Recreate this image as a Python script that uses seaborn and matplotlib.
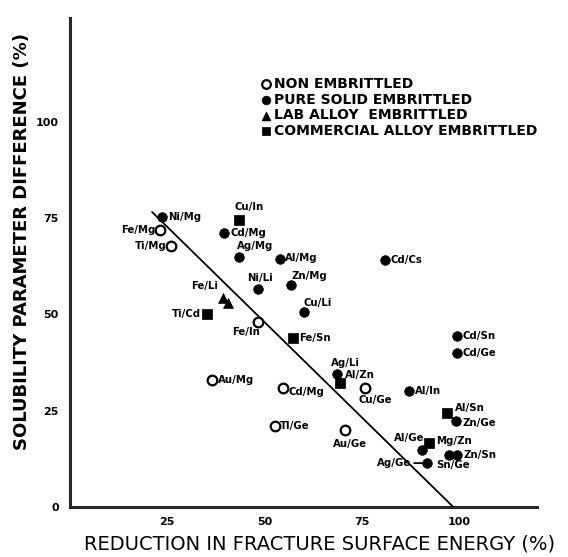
import numpy as np
import pandas as pd
import matplotlib
matplotlib.use("Agg")
import matplotlib.pyplot as plt
import seaborn as sns

# data
non_names = ["Fe/Mg", "Ti/Mg", "Fe/In", "Au/Mg", "Cd/Mg", "Tl/Ge", "Au/Ge", "Cu/Ge"]
non_x = [23.1, 26.0, 48.4, 36.4, 54.8, 52.7, 70.7, 75.8]
non_y = [71.9, 67.9, 48.1, 33.0, 30.8, 21.1, 20.0, 31.0]

pure_names = ["Ni/Mg", "Cd/Mg", "Ag/Mg", "Al/Mg", "Ni/Li", "Zn/Mg", "Cu/Li", "Cd/Cs",
              "Ag/Li", "Cd/Sn", "Cd/Ge", "Al/In", "Zn/Ge", "Al/Ge", "", "Zn/Sn", "Sn/Ge"]
pure_x = [23.6, 39.6, 43.5, 54.0, 48.3, 56.7, 60.2, 81.0,
          68.6, 99.4, 99.4, 87.0, 99.1, 90.4, 97.3, 99.4, 91.7]
pure_y = [75.2, 71.2, 64.9, 64.3, 56.6, 57.7, 50.6, 64.2,
          34.5, 44.4, 39.9, 30.1, 22.4, 14.8, 13.5, 13.5, 11.4]

lab_names = ["Fe/Li", ""]
lab_x = [39.4, 40.6]
lab_y = [54.2, 53.0]

com_names = ["Cu/In", "Ti/Cd", "Fe/Sn", "Al/Zn", "Al/Sn", "Mg/Zn"]
com_x = [43.3, 35.1, 57.4, 69.5, 97.0, 92.3]
com_y = [74.5, 50.1, 43.8, 32.2, 24.5, 16.6]

line_x = [21.1, 98.5]
line_y = [76.6, 0.0]

# label placement (pixels from marker, alignment)
offsets = {
    "Fe/Mg": (-4, 0, "right"), "Ti/Mg": (-5, 0, "right"), "Fe/In": (-12, -10, "center"),
    "Au/Mg": (6, 0, "left"), "Cd/Mg_o": (5, -4, "left"), "Tl/Ge": (5, 0, "left"),
    "Au/Ge": (5, -14, "center"), "Cu/Ge": (10, -12, "center"),
    "Ni/Mg": (6, 0, "left"), "Cd/Mg": (6, 0, "left"), "Ag/Mg": (16, 11, "center"),
    "Al/Mg": (5, 1, "left"), "Ni/Li": (2, 11, "center"), "Zn/Mg": (19, 9, "center"),
    "Cu/Li": (13, 9, "center"), "Cd/Cs": (5, 0, "left"), "Ag/Li": (8, 11, "center"),
    "Cd/Sn": (6, 0, "left"), "Cd/Ge": (6, 0, "left"), "Al/In": (6, 0, "left"),
    "Zn/Ge": (7, -2, "left"), "Al/Ge": (-13, 12, "center"), "Zn/Sn": (7, 0, "left"),
    "Sn/Ge": (9, -2, "left"), "Fe/Li": (-5, 12, "right"), "Cu/In": (11, 13, "center"),
    "Ti/Cd": (-6, 0, "right"), "Fe/Sn": (6, 0, "left"), "Al/Zn": (4, 8, "left"),
    "Al/Sn": (7, 5, "left"), "Mg/Zn": (7, 2, "left"),
}

sns.set_style("white")
plt.rcParams["font.family"] = ["DejaVu Sans"]
plt.rcParams["text.color"] = "black"
plt.rcParams["axes.labelcolor"] = "black"
plt.rcParams["xtick.color"] = "black"
plt.rcParams["ytick.color"] = "black"

fig = plt.figure(figsize=(5.68, 5.57), dpi=100)
ax = fig.add_axes([70 / 568, 1 - 507 / 557, 467 / 568, 489 / 557])

ax.plot(line_x, line_y, color="black", lw=1.3, zorder=1)

non = pd.DataFrame({"x": non_x, "y": non_y, "name": non_names})
pure = pd.DataFrame({"x": pure_x, "y": pure_y, "name": pure_names})
lab = pd.DataFrame({"x": lab_x, "y": lab_y, "name": lab_names})
com = pd.DataFrame({"x": com_x, "y": com_y, "name": com_names})

sns.scatterplot(data=non, x="x", y="y", ax=ax, marker="o", s=48, facecolor="white",
                edgecolor="black", linewidth=1.6, label="NON EMBRITTLED", zorder=3)
sns.scatterplot(data=pure, x="x", y="y", ax=ax, marker="o", s=48, color="black",
                edgecolor="black", linewidth=0.5, label="PURE SOLID EMBRITTLED", zorder=3)
sns.scatterplot(data=lab, x="x", y="y", ax=ax, marker="^", s=50, color="black",
                edgecolor="black", linewidth=0.5, label="LAB ALLOY  EMBRITTLED", zorder=3)
sns.scatterplot(data=com, x="x", y="y", ax=ax, marker="s", s=42, color="black",
                edgecolor="black", linewidth=0.5, label="COMMERCIAL ALLOY EMBRITTLED", zorder=3)

lbl_kw = dict(textcoords="offset pixels", fontsize=7.3, fontweight="bold", va="center")
for df, tag in [(non, "_o"), (pure, ""), (lab, ""), (com, "")]:
    for _, r in df.iterrows():
        if not r["name"]:
            continue
        key = r["name"] + tag if (r["name"] + tag) in offsets else r["name"]
        dx, dy, ha = offsets[key]
        ax.annotate(r["name"], (r["x"], r["y"]), xytext=(dx, dy), ha=ha, **lbl_kw)

# Ag/Ge shares the Sn/Ge marker, tied with a short stub
sg = pure[pure["name"] == "Sn/Ge"].iloc[0]
ax.annotate("Ag/Ge", (sg["x"], sg["y"]), xytext=(-16, 0), ha="right",
            arrowprops=dict(arrowstyle="-", color="black", lw=1.3, shrinkA=0, shrinkB=0),
            **lbl_kw)

ax.set_xlim(0, 120)
ax.set_ylim(0, 127)
ax.set_xticks([25, 50, 75, 100])
ax.set_yticks([0, 25, 50, 75, 100])
ax.tick_params(axis="y", direction="in", length=7, width=2, pad=8, labelsize=8)
ax.tick_params(axis="x", direction="in", length=10, width=1.5, pad=7, labelsize=8)
for t in ax.get_xticklabels() + ax.get_yticklabels():
    t.set_fontweight("bold")

sns.despine(ax=ax)
ax.spines["left"].set_linewidth(2.2)
ax.spines["bottom"].set_linewidth(2.2)

ax.set_xlabel("REDUCTION IN FRACTURE SURFACE ENERGY (%)", fontsize=14)
ax.set_ylabel("SOLUBILITY PARAMETER DIFFERENCE (%)", fontsize=13, fontweight="bold")
ax.xaxis.set_label_coords(0.535, -0.057)
ax.yaxis.set_label_coords(-0.0835, 0.542)

ax.legend(loc="upper left", bbox_to_anchor=(253 / 568, 1 - 70 / 557), bbox_transform=fig.transFigure,
          frameon=False, prop={"weight": "bold", "size": 10}, handletextpad=0.2,
          labelspacing=0.12, handlelength=0.8, markerscale=0.9, borderpad=0)

fig.savefig("out.png", dpi=100)
